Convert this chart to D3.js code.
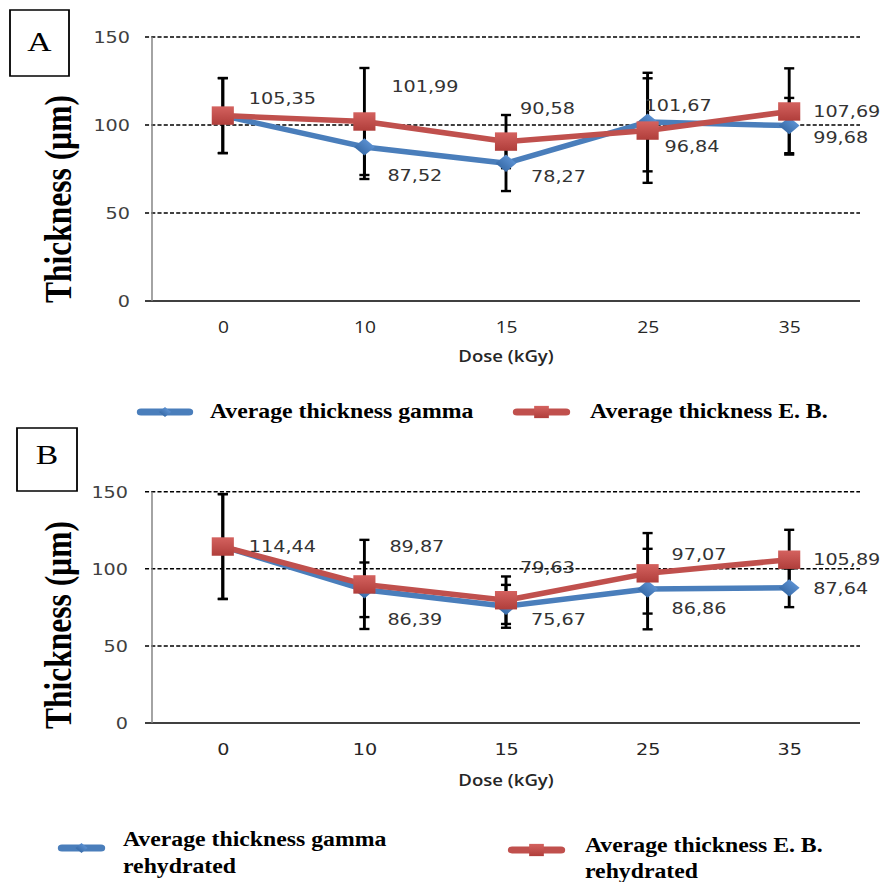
<!DOCTYPE html>
<html><head><meta charset="utf-8">
<script src="https://cdn.jsdelivr.net/npm/d3@7"></script>
<style>html,body{margin:0;padding:0;background:#fff}</style>
</head><body>
<svg id="c" width="880" height="882"></svg>
<script>
// ---------- data ----------
const doses = ["0", "10", "15", "25", "35"];
const yTicks = [0, 50, 100, 150];

// Panel A
const gammaA = [105.35, 87.52, 78.27, 101.67, 99.68];
const ebA = [105.35, 101.99, 90.58, 96.84, 107.69];
const gammaErrA = [21.3, 18.2, 15.8, 28.0, 15.7];
const ebErrA = [21.3, 30.4, 15.1, 29.7, 24.5];

// Panel B
const gammaB = [114.44, 86.39, 75.67, 86.86, 87.64];
const ebB = [114.44, 89.87, 79.63, 97.07, 105.89];
const gammaErrB = [34.0, 17.7, 13.9, 26.1, 12.5];
const ebErrB = [34.0, 28.9, 15.4, 26.1, 19.4];

const legendA = ["Average thickness gamma", "Average thickness E. B."];
const legendB = [["Average thickness gamma", "rehydrated"], ["Average thickness E. B.", "rehydrated"]];

// ---------- layout (image is horizontally stretched) ----------
const SX = 1.2;
const BLUE = "#4A7EBB", RED = "#C0504D";
const fmt = d3.formatLocale({decimal: ",", thousands: ".", grouping: [3], currency: ["", ""]}).format(".2f");

const svg = d3.select("#c");
const defs = svg.append("defs");
const grad = defs.append("linearGradient").attr("id", "redg").attr("x1", 0).attr("y1", 0).attr("x2", 0).attr("y2", 1);
grad.append("stop").attr("offset", "0%").attr("stop-color", "#D4625F");
grad.append("stop").attr("offset", "100%").attr("stop-color", "#B03E3B");
const gradb = defs.append("linearGradient").attr("id", "blueg").attr("x1", 0).attr("y1", 0).attr("x2", 0).attr("y2", 1);
gradb.append("stop").attr("offset", "0%").attr("stop-color", "#5A8FD0");
gradb.append("stop").attr("offset", "100%").attr("stop-color", "#3A6DAA");

const root = svg.append("g").attr("transform", `scale(${SX},1)`);

const xLeft = 152 / SX, xRight = 860 / SX, tickLeft = 145 / SX;
const x = d3.scalePoint().domain(doses).range([xLeft, xRight]).padding(0.5);

function panel(cfg) {
  const g = root.append("g");
  const y = d3.scaleLinear().domain([0, 150]).range([cfg.y0, cfg.y150]);

  // letter box
  g.append("rect").attr("x", cfg.box[0]).attr("y", cfg.box[1]).attr("width", cfg.box[2]).attr("height", cfg.box[3])
    .attr("fill", "none").attr("stroke", "#000").attr("stroke-width", 1.5);
  g.append("text").attr("x", cfg.box[0] + cfg.box[2] / 2).attr("y", cfg.letterY)
    .attr("text-anchor", "middle").attr("font-family", "Liberation Serif, Times New Roman, serif")
    .attr("font-size", 28).text(cfg.letter);

  // gridlines
  g.selectAll(".grid").data(yTicks).enter().append("line")
    .attr("x1", tickLeft).attr("x2", xRight)
    .attr("y1", d => y(d)).attr("y2", d => y(d))
    .attr("stroke", "#000").attr("stroke-width", 1.5)
    .attr("stroke-dasharray", d => d === 0 ? null : "3.4,1.8");
  // y axis line
  g.append("line").attr("x1", xLeft).attr("x2", xLeft).attr("y1", y(0)).attr("y2", y(150))
    .attr("stroke", "#808080").attr("stroke-width", 1.2);

  // y tick labels
  const yAxis = d3.axisLeft(y).tickValues(yTicks).tickSize(0).tickPadding(0);
  const ya = g.append("g").attr("transform", `translate(${cfg.yLabelX / SX},0)`).call(yAxis);
  ya.select(".domain").remove();
  ya.selectAll("text").attr("font-family", "DejaVu Sans, Verdana, sans-serif").attr("font-size", 16)
    .attr("fill", "#404040").attr("dy", "0.36em").attr("x", 0);

  // x tick labels
  const xAxis = d3.axisBottom(x).tickSize(0).tickPadding(0);
  const xa = g.append("g").attr("transform", `translate(0,${cfg.xLabelY})`).call(xAxis);
  xa.select(".domain").remove();
  xa.selectAll("text").attr("font-family", cfg.xFont).attr("font-size", 16).attr("fill", "#262626").attr("dy", 0).attr("y", 0);

  // x title
  g.append("text").attr("x", (xLeft + xRight) / 2).attr("y", cfg.xTitleY).attr("text-anchor", "middle")
    .attr("font-family", "Open Sans, sans-serif").attr("font-weight", 600).attr("font-size", 15.5)
    .attr("fill", "#262626").text("Dose (kGy)");

  // y title
  g.append("text").attr("transform", `translate(${cfg.yTitleX},${cfg.yTitleY}) rotate(-90)`)
    .attr("text-anchor", "middle").attr("font-family", "Liberation Serif, Times New Roman, serif")
    .attr("font-weight", "bold").attr("font-size", 31.5).text("Thickness (µm)");

  const series = [
    {vals: cfg.gamma, err: cfg.gErr, color: BLUE, kind: "diamond", labels: cfg.gLab},
    {vals: cfg.eb, err: cfg.eErr, color: RED, kind: "square", labels: cfg.eLab}
  ];

  // error bars
  series.forEach(s => {
    const eb = g.append("g");
    s.vals.forEach((v, i) => {
      const cx = x(doses[i]), t = y(v + s.err[i]), b = y(v - s.err[i]);
      eb.append("line").attr("x1", cx).attr("x2", cx).attr("y1", t).attr("y2", b).attr("stroke", "#000").attr("stroke-width", 2.4);
      [t, b].forEach(yy => eb.append("line").attr("x1", cx - 4.2).attr("x2", cx + 4.2).attr("y1", yy).attr("y2", yy)
        .attr("stroke", "#000").attr("stroke-width", 2.4));
    });
  });

  // lines + markers
  series.forEach(s => {
    const line = d3.line().x((d, i) => x(doses[i])).y(d => y(d));
    g.append("path").datum(s.vals).attr("d", line).attr("fill", "none")
      .attr("stroke", s.color).attr("stroke-width", 5.5).attr("stroke-linejoin", "round");
    g.selectAll(null).data(s.vals).enter().append("path")
      .attr("transform", (d, i) => `translate(${x(doses[i])},${y(d)})` + (s.kind === "diamond" ? " rotate(45)" : ""))
      .attr("d", d3.symbol().type(d3.symbolSquare).size(s.kind === "diamond" ? 150 : 340))
      .attr("fill", s.kind === "diamond" ? "url(#blueg)" : "url(#redg)");
  });

  // data labels
  series.forEach(s => {
    s.vals.forEach((v, i) => {
      const o = s.labels[i];
      if (!o) return;
      g.append("text").attr("x", x(doses[i]) + o[0] / SX).attr("y", y(v) + o[1]).attr("dy", "0.36em")
        .attr("font-family", "DejaVu Sans, Verdana, sans-serif").attr("font-size", 16).attr("fill", "#333")
        .text(fmt(v));
    });
  });
}

function legendItem(x1, x2, yy, color, kind) {
  root.append("line").attr("x1", x1 / SX).attr("x2", x2 / SX).attr("y1", yy).attr("y2", yy)
    .attr("stroke", color).attr("stroke-width", 7).attr("stroke-linecap", "round");
  const cx = (x1 + x2) / 2 / SX;
  root.append("path").attr("transform", `translate(${cx},${yy})` + (kind === "diamond" ? " rotate(45)" : ""))
    .attr("d", d3.symbol().type(d3.symbolSquare).size(kind === "diamond" ? 50 : 150))
    .attr("fill", kind === "diamond" ? "url(#blueg)" : "url(#redg)");
}
function legendText(x0, yy, lines, lh) {
  lines.forEach((l, k) => {
    const t = root.append("text").attr("x", x0 / SX).attr("y", yy + k * lh)
      .attr("font-family", "Liberation Serif, Times New Roman, serif").attr("font-weight", "bold")
      .attr("font-size", 22).text(l);
    const w = t.node().getComputedTextLength();
    t.attr("textLength", w * 0.9).attr("lengthAdjust", "spacingAndGlyphs");
  });
}

// Panel A
panel({
  letter: "A", box: [10 / SX, 10, 59 / SX, 66], letterY: 51,
  y0: 301, y150: 37, xLabelY: 333, xTitleY: 362, yTitleX: 57 / SX + 12, yTitleY: 199, yLabelX: 130,
  xFont: "Open Sans, sans-serif",
  gamma: gammaA, eb: ebA, gErr: gammaErrA, eErr: ebErrA,
  gLab: [[26, -17], [23, 28], [25, 13], [-3, -17], [24, 12]],
  eLab: [null, [27, -35], [14, -33], [17, 16], [24, 0]]
});
legendItem(141, 189, 412, BLUE, "diamond");
legendText(210, 418, [legendA[0]], 0);
legendItem(517, 566, 412, RED, "square");
legendText(590, 418, [legendA[1]], 0);

// Panel B
panel({
  letter: "B", box: [17 / SX, 428, 60 / SX, 63], letterY: 464,
  y0: 723, y150: 491.7, xLabelY: 755, xTitleY: 786, yTitleX: 57 / SX + 12, yTitleY: 625, yLabelX: 128,
  xFont: "DejaVu Sans, Verdana, sans-serif",
  gamma: gammaB, eb: ebB, gErr: gammaErrB, eErr: ebErrB,
  gLab: [null, [23, 29], [25, 13], [24, 19], [24, 0]],
  eLab: [[26, 0], [25, -38], [14, -33], [24, -19], [24, 0]]
});
legendItem(62, 101, 848, BLUE, "diamond");
legendText(123, 846, legendB[0], 27);
legendItem(512, 561, 850, RED, "square");
legendText(585, 852, legendB[1], 26);
</script>
</body></html>
